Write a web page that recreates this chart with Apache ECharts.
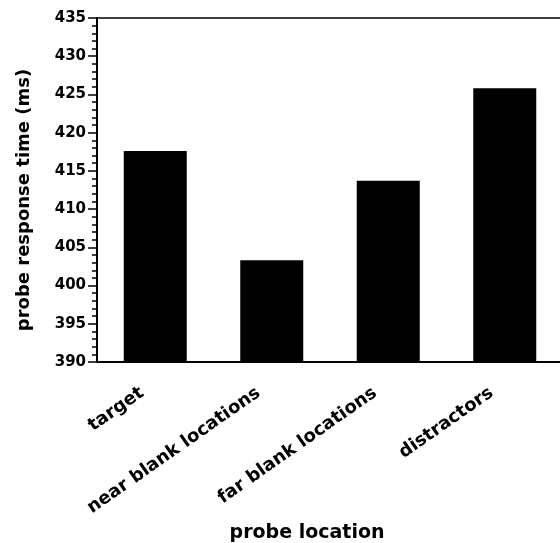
<!DOCTYPE html>
<html>
<head>
<meta charset="utf-8">
<script src="https://cdn.jsdelivr.net/npm/echarts@6/dist/echarts.min.js"></script>
<style>
  html, body { margin: 0; padding: 0; background: #fff; }
  #main { width: 560px; height: 543px; }
</style>
</head>
<body>
<div id="main"></div>
<script>
var categories = ['target', 'near blank locations', 'far blank locations', 'distractors'];
var responseTime = [417.6, 403.3, 413.7, 425.8];
var yMin = 390, yMax = 435, yStep = 5;

var font = 'DejaVu Sans';
var myChart = echarts.init(document.getElementById('main'));

var option = {
  animation: false,
  backgroundColor: '#fff',
  grid: {
    left: 97, top: 18, right: -3, bottom: 181,
    outerBoundsMode: 'none',
    show: true, borderColor: '#000', borderWidth: 1.5
  },
  xAxis: [{
    type: 'category',
    data: categories,
    name: 'probe location',
    nameLocation: 'middle',
    nameGap: 155,
    nameTextStyle: { fontFamily: font, fontWeight: 'bold', fontSize: 19, color: '#000', padding: [0, 46, 0, 0] },
    axisLine: { lineStyle: { color: '#000', width: 2 } },
    axisTick: { length: 10, lineStyle: { color: '#000', width: 2 } },
    axisLabel: {
      rotate: 35, margin: 20, padding: [0, 16, 0, 0],
      fontFamily: font, fontWeight: 'bold', fontSize: 18, color: '#000'
    }
  }],
  yAxis: [{
    type: 'value',
    min: yMin, max: yMax, interval: yStep,
    name: 'probe response time (ms)',
    nameLocation: 'middle',
    nameGap: 64,
    nameTextStyle: { fontFamily: font, fontWeight: 'bold', fontSize: 18, color: '#000', padding: [0, 20, 0, 0] },
    axisLine: { show: true, lineStyle: { color: '#000', width: 2 } },
    axisTick: { show: true, length: 9, lineStyle: { color: '#000', width: 1.5 } },
    minorTick: { show: true, splitNumber: 5, length: 5, lineStyle: { color: '#000', width: 1.5 } },
    splitLine: { show: false },
    axisLabel: { margin: 11, fontFamily: font, fontWeight: 'bold', fontSize: 15, color: '#000' }
  }],
  series: [{
    type: 'bar',
    data: responseTime,
    barWidth: 63,
    itemStyle: { color: '#000' }
  }]
};

myChart.setOption(option);
</script>
</body>
</html>
